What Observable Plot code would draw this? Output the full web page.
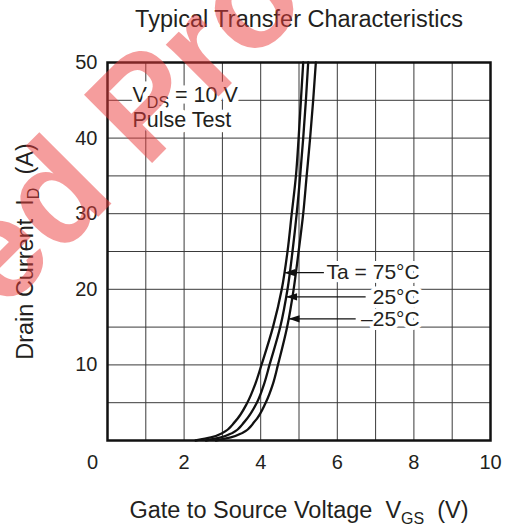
<!DOCTYPE html>
<html><head><meta charset="utf-8">
<script src="https://cdn.jsdelivr.net/npm/d3@7"></script>
<script src="https://cdn.jsdelivr.net/npm/@observablehq/plot@0.6"></script>
<style>
html,body{margin:0;padding:0;background:#fff;}
</style></head><body><div id="chart"></div>
<script>
// Drain current (A) at which each curve was read
const currents = [0, 0.4, 1, 2.5, 5, 7.5, 10, 15, 20, 25, 30, 35, 40, 45, 50];
// Gate-source voltage (V) for each temperature curve
const vgsTa75  = [2.30, 2.70, 3.00, 3.33, 3.65, 3.86, 4.02, 4.32, 4.55, 4.70, 4.81, 4.92, 4.99, 5.05, 5.11];
const vgsTa25  = [2.57, 2.96, 3.26, 3.58, 3.90, 4.09, 4.23, 4.51, 4.70, 4.83, 4.94, 5.03, 5.11, 5.18, 5.24];
const vgsTaM25 = [2.83, 3.22, 3.52, 3.84, 4.13, 4.32, 4.45, 4.69, 4.86, 4.99, 5.11, 5.20, 5.29, 5.37, 5.44];
const seriesNames = ["Ta = 75°C", "25°C", "–25°C"];
const xTicks = [2, 4, 6, 8, 10];
const yTicks = [10, 20, 30, 40, 50];
const titleText = "Typical Transfer Characteristics";
const xLabel = "Gate to Source Voltage\u00a0 V_{GS}\u00a0\u00a0(V)";
const yLabel = "Drain Current\u00a0 I_{D}\u00a0\u00a0(A)";
const condLines = ["V_{DS} = 10 V", "Pulse Test"];
const watermark = "ed Product";

// annotation placement (current where arrow meets curve, arrow tail voltage)
const arrowCurrents = [22.2, 19.0, 16.1];
const arrowTails = [5.65, 6.74, 6.48];
const labelEnd = 8.15;

const seriesVgs = [vgsTa75, vgsTa25, vgsTaM25];
const rows = seriesVgs.flatMap((vs, k) => vs.map((v, i) => ({series: seriesNames[k], v, i: currents[i]})));
const ann = seriesNames.map((name, k) => ({
  name,
  i: arrowCurrents[k],
  tip: d3.scaleLinear().domain(currents).range(seriesVgs[k])(arrowCurrents[k]),
  tail: arrowTails[k]
}));

const headSymbol = {
  draw(ctx) { const L = 11, h = 3.6; ctx.moveTo(0, 0); ctx.lineTo(L, -h); ctx.lineTo(L, h); ctx.closePath(); }
};

const ink = "#231f20";
const chart = Plot.plot({
  width: 507, height: 526,
  marginLeft: 107, marginRight: 17, marginTop: 62, marginBottom: 86,
  style: {fontFamily: "'Liberation Sans', Arial, sans-serif", fontSize: "20px", color: ink, background: "#fff"},
  x: {domain: [0, 10]},
  y: {domain: [0, 50]},
  marks: [
    Plot.gridX(d3.range(0, 11), {stroke: "#3a3a3a", strokeOpacity: 1, strokeWidth: 1}),
    Plot.gridY(d3.range(0, 51, 5), {stroke: "#3a3a3a", strokeOpacity: 1, strokeWidth: 1}),
    Plot.text([condLines[0]], {text: d => d, frameAnchor: "top-left", dx: 25, dy: 33, textAnchor: "start",
      lineAnchor: "middle", fontSize: 21.5, fill: ink, stroke: "white", strokeWidth: 11}),
    Plot.text([condLines[1]], {text: d => d, frameAnchor: "top-left", dx: 25, dy: 58, textAnchor: "start",
      lineAnchor: "middle", fontSize: 21.5, fill: ink, stroke: "white", strokeWidth: 11}),
    Plot.line(rows, {x: "v", y: "i", z: "series", curve: "monotone-y", stroke: "#111", strokeWidth: 2.3}),
    Plot.link(ann, {x1: "tip", x2: "tail", y1: "i", y2: "i", stroke: "#111", strokeWidth: 1.3}),
    Plot.dot(ann, {x: "tip", y: "i", symbol: headSymbol, fill: "#111", stroke: null}),
    Plot.text(ann, {x: () => labelEnd, y: "i", text: "name", textAnchor: "end", lineAnchor: "middle",
      fontSize: 21, fill: ink, stroke: "white", strokeWidth: 8}),
    Plot.frame({stroke: "#111", strokeWidth: 2.5}),
    Plot.axisX({ticks: xTicks, tickSize: 0, tickPadding: 14, label: null, fill: ink}),
    Plot.axisX({ticks: [0], tickSize: 0, tickPadding: 14, dx: -15, label: null, fill: ink}),
    Plot.axisY({ticks: yTicks, tickSize: 0, tickPadding: 10, label: null, fill: ink}),
    Plot.text([titleText], {text: d => d, frameAnchor: "top", dy: -43, lineAnchor: "middle", fontSize: 23.5, fill: ink}),
    Plot.text([xLabel], {text: d => d, frameAnchor: "bottom", dy: 70, lineAnchor: "middle", fontSize: 23.5, fill: ink}),
    Plot.text([yLabel], {text: d => d, frameAnchor: "left", dx: -82, rotate: -90, textAnchor: "middle",
      lineAnchor: "middle", fontSize: 23.5, fill: ink}),
    Plot.text([watermark], {text: d => d, frameAnchor: "top-left", dx: -105, dy: 250, rotate: -45,
      textAnchor: "start", lineAnchor: "bottom", fontSize: 140, fontWeight: "bold", fill: "#ec3b3b", fillOpacity: 0.5})
  ]
});

// turn "_{...}" into real subscript tspans
chart.querySelectorAll("text").forEach(t => {
  const s = t.textContent;
  if (!s.includes("_{") || t.querySelector("tspan")) return;
  const parts = s.split(/_\{([^}]*)\}/);
  t.textContent = "";
  let shifted = false;
  parts.forEach((p, idx) => {
    if (!p) return;
    const ts = document.createElementNS("http://www.w3.org/2000/svg", "tspan");
    ts.textContent = p;
    if (idx % 2 === 1) { ts.setAttribute("font-size", "16"); ts.setAttribute("dy", "6"); shifted = true; }
    else if (shifted) { ts.setAttribute("dy", "-6"); shifted = false; }
    t.appendChild(ts);
  });
});
document.getElementById("chart").appendChild(chart);
</script></body></html>
